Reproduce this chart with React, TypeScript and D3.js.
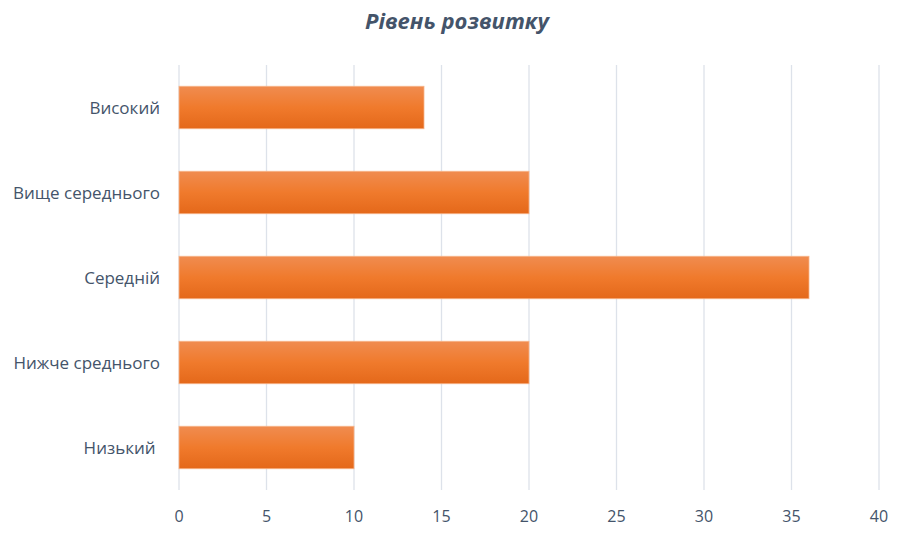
import React from "react";
import * as d3 from "d3";

const categories = ["Високий", "Вище середнього", "Середній", "Нижче среднього", "Низький "];
const values = [14, 20, 36, 20, 10];
const xTicks = [0, 5, 10, 15, 20, 25, 30, 35, 40];
const title = "Рівень розвитку";

export default function App() {
  const W = 907, H = 535;
  const x = d3.scaleLinear().domain([0, 40]).range([179, 879]);
  const y = d3.scaleBand<string>().domain(categories).range([65, 490]).paddingInner(0.5).paddingOuter(0.25);
  return (
    <svg width={W} height={H} style={{ position: "absolute", left: 0, top: 0, background: "#fff" }}>
      <defs>
        <linearGradient id="barg" x1="0" y1="0" x2="0" y2="1">
          <stop offset="0" stopColor="#F08C50" />
          <stop offset="0.5" stopColor="#F07A2C" />
          <stop offset="1" stopColor="#E4681A" />
        </linearGradient>
      </defs>
      <text x={457} y={29} textAnchor="middle" fontFamily="'Open Sans', sans-serif" fontWeight="bold" fontStyle="italic" fontSize={22} fill="#44546A">{title}</text>
      {xTicks.map((t) => (
        <g key={t}>
          <line x1={x(t)} x2={x(t)} y1={65} y2={490} stroke="#DDE2EA" strokeWidth={1.3} />
          <text x={x(t)} y={522} textAnchor="middle" fontFamily="'Open Sans', sans-serif" fontSize={16} fill="#44546A">{t}</text>
        </g>
      ))}
      {categories.map((c, i) => (
        <g key={c}>
          <rect x={x(0)} y={y(c)!} width={x(values[i]) - x(0)} height={y.bandwidth()} fill="url(#barg)" stroke="#F7B58A" strokeWidth={0.8} />
          <text x={160} y={y(c)! + y.bandwidth() / 2 + 6} textAnchor="end" fontFamily="'Open Sans', sans-serif" fontSize={17} fill="#44546A" style={{ whiteSpace: "pre" }}>{c}</text>
        </g>
      ))}
    </svg>
  );
}
